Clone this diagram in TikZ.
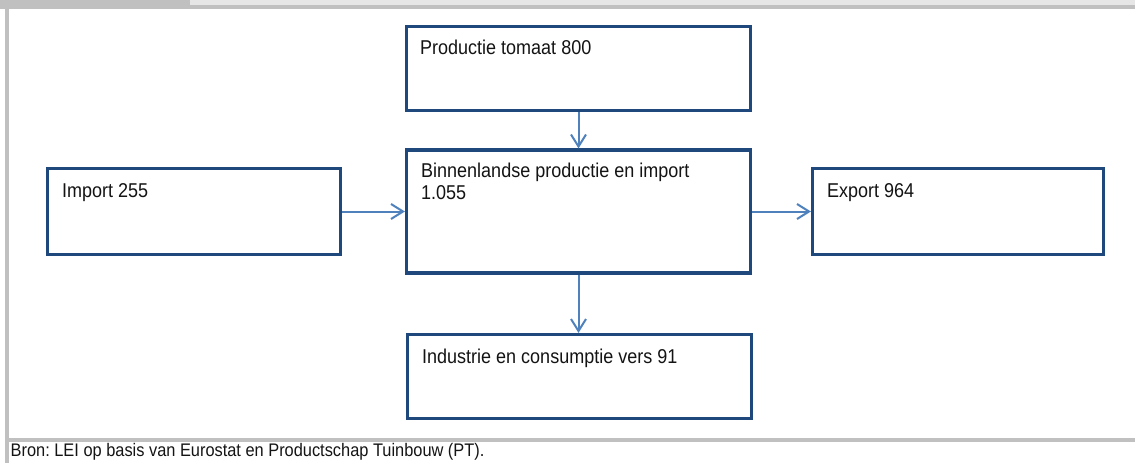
\documentclass[tikz,border=0pt]{standalone}
\usepackage{fontspec}
\setmainfont{Liberation Sans}[FakeStretch=0.9]
\frenchspacing
\usetikzlibrary{arrows.meta}
\definecolor{boxblue}{RGB}{31,73,125}
\definecolor{arrowblue}{RGB}{79,129,189}
\definecolor{framegray}{RGB}{192,192,192}
\definecolor{lightgray}{RGB}{230,230,230}
\definecolor{txt}{RGB}{20,20,20}
\tikzset{
  flowbox/.style={draw=boxblue, line width=3.2pt, rectangle, inner sep=0pt, fill=white},
  boxtext/.style={anchor=base west, inner sep=0pt, text=txt, font=\fontsize{20}{22}\selectfont, align=left},
  flow/.style={draw=arrowblue, line width=2pt, -{Straight Barb[length=12pt,width=15pt,line width=2pt]}}
}
\begin{document}
\begin{tikzpicture}[x=1pt,y=-1pt]
\useasboundingbox (0,0) rectangle (1135,463);
% frame
\fill[lightgray] (0,0) rectangle (1135,5);
\fill[framegray] (0,0) rectangle (190,5);
\fill[framegray] (0,5) rectangle (1135,8.5);
\fill[framegray] (5,5) rectangle (8.5,463);
\fill[framegray] (5,438) rectangle (1135,442);
% boxes
\node[flowbox, minimum width=344pt, minimum height=84pt] (top) at (578.5,68.5) {};
\node[flowbox, minimum width=344pt, minimum height=123pt] (mid) at (578.5,211.5) {};
\node[flowbox, minimum width=293pt, minimum height=86pt] (imp) at (194,211.5) {};
\node[flowbox, minimum width=291pt, minimum height=86pt] (exp) at (958,211.5) {};
\node[flowbox, minimum width=344pt, minimum height=84pt] (bot) at (579.5,376.5) {};
% texts
\node[boxtext] (toptxt) at (420,54) {Productie tomaat 800};
\node[boxtext] (midtxt) at (421,199) {Binnenlandse productie en import\\1.055};
\node[boxtext] (imptxt) at (62,197) {Import 255};
\node[boxtext] (exptxt) at (827,197) {Export 964};
\node[boxtext] (bottxt) at (422,363) {Industrie en consumptie vers 91};
\node[anchor=base west, inner sep=0pt, text=txt, font=\fontsize{18.2}{20}\selectfont] (bron) at (10.5,456.5) {Bron: LEI op basis van Eurostat en Productschap Tuinbouw (PT).};
% connectors
\draw[flow] (top.south) -- (top.south |- mid.north);
\draw[flow] (imp.east) -- (imp.east -| mid.west);
\draw[flow] (mid.east) -- (mid.east -| exp.west);
\draw[flow] (mid.south) -- (mid.south |- bot.north);
\end{tikzpicture}
\end{document}
